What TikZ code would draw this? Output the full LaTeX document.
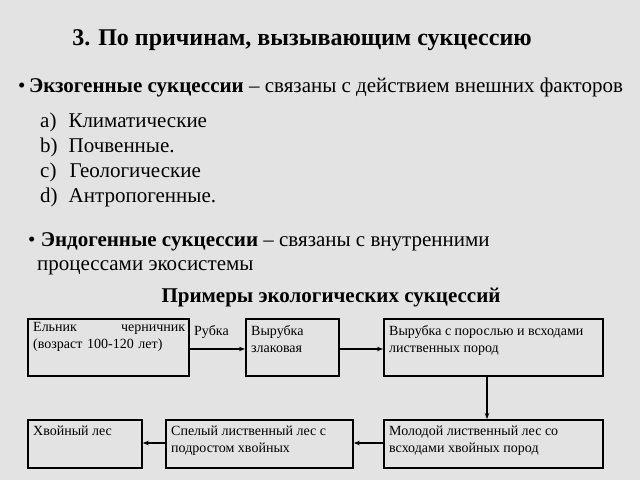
\documentclass[tikz,border=0pt]{standalone}
\usepackage{fontspec}
\setmainfont{Liberation Serif}
\usetikzlibrary{positioning, arrows.meta}

\begin{document}
\begin{tikzpicture}
            [x=1pt, y=-1pt,
              blk/.style={draw=black, line width=1.8pt, anchor=north west,
                inner sep=0pt},
              txt/.style={anchor=north west, inner sep=0pt, align=left,
                font=\fontsize{14}{17}\selectfont},
              big/.style={anchor=west, inner sep=0pt,
                font=\fontsize{21}{24}\selectfont},
              ->/.style={line width=1.8pt, arrows={-Stealth[length=6pt]}}]
            \fill[gray!22] (0,0) rectangle (640,480);
            \useasboundingbox (0,0) rectangle (640,480);
            % heading and lists
            \node[font=\fontsize{24}{28}\selectfont\bfseries] (ttl) at (302,40)
              {3. По причинам, вызывающим сукцессию};
            \node[big] (ex) at (18,87) {\textbullet\,\textbf{Экзогенные сукцессии} – связаны с действием внешних факторов};
            \node[big] (la) at (40,122) {a)\hspace{12pt}Климатические};
            \node[big] (lb) at (40,147) {b)\hspace{11pt}Почвенные.};
            \node[big] (lc) at (40,172) {c)\hspace{13pt}Геологические};
            \node[big] (ld) at (40,197) {d)\hspace{11pt}Антропогенные.};
            \node[big] (en) at (28,242) {\textbullet\ \textbf{Эндогенные сукцессии} – связаны с внутренними};
            \node[big] (en2) at (37,268) {процессами экосистемы};
            \node[font=\fontsize{21}{24}\selectfont\bfseries] (ex2) at (331,298)
              {Примеры экологических сукцессий};
            % boxes
            \node[blk, minimum width=161pt, minimum height=57pt] (b1) at (27,318) {};
            \node[blk, minimum width=93pt, minimum height=57pt] (b2) at (245,318) {};
            \node[blk, minimum width=219pt, minimum height=57pt] (b3) at (383,318) {};
            \node[blk, minimum width=114pt, minimum height=48pt] (b4) at (27,419) {};
            \node[blk, minimum width=187pt, minimum height=48pt] (b5) at (165,419) {};
            \node[blk, minimum width=219pt, minimum height=48pt] (b6) at (383,419) {};
            \node[txt, text width=152pt] (t1) at (33,322) {Ельник \hfill черничник\\(возраст 100-120 лет)};
            \node[txt] (t2) at (251,325) {Вырубка\\злаковая};
            \node[txt] (t3) at (389,325) {Вырубка с порослью и всходами\\лиственных пород};
            \node[txt] (t4) at (33,426) {Хвойный лес};
            \node[txt] (t5) at (171,426) {Спелый лиственный лес с\\подростом хвойных};
            \node[txt] (t6) at (389,426) {Молодой лиственный лес со\\всходами хвойных пород};
            \node[txt] (rb) at (194,325) {Рубка};
            % arrows
            \draw[->] (b1.east |- 0,349) to (b2.west |- 0,349);
            \draw[->] (b2.east |- 0,349) to (b3.west |- 0,349);
            \draw[->] (b3.south -| 487,0) to (b6.north -| 487,0);
            \draw[->] (b6.west |- 0,443) to (b5.east |- 0,443);
            \draw[->] (b5.west |- 0,443) to (b4.east |- 0,443);
        \end{tikzpicture}
\end{document}
